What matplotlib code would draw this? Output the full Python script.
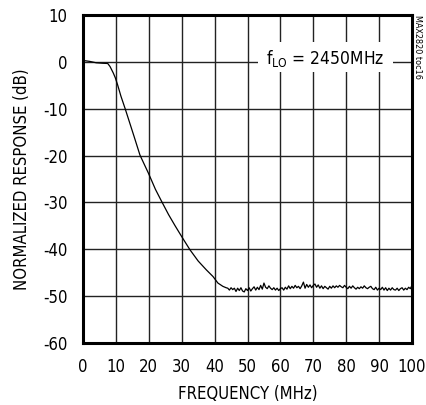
import numpy as np
import matplotlib
matplotlib.use('Agg')
import matplotlib.pyplot as plt
from matplotlib.patches import Rectangle

plt.rcParams['font.family'] = ['Liberation Sans Narrow', 'DejaVu Sans']
plt.rcParams['font.stretch'] = 'condensed'
plt.rcParams['axes.unicode_minus'] = False

# passband and roll-off of the baseband filter
freq_rolloff = [0, 2, 4, 6, 7.5, 8.2, 9.2, 9.8, 10.5, 11.5, 12.8, 14, 15.5, 17.3,
                19.9, 22, 23.9, 26, 28, 30, 32.5, 35, 37.5, 39.5, 41, 42.5, 43.5]
resp_rolloff = [0.3, 0.1, -0.2, -0.3, -0.35, -1.0, -2.4, -3.4, -4.9, -7.3, -10.0,
                -12.6, -15.9, -19.9, -23.8, -27.2, -29.8, -32.6, -35.0, -37.3,
                -40.1, -42.5, -44.4, -45.8, -47.2, -47.9, -48.2]

# stopband noise floor, 44 MHz to 100 MHz in 0.5 MHz steps
freq_floor = np.arange(44, 100.01, 0.5)
resp_floor = [-48.3, -48.7, -48.2, -48.6, -48.3, -49.0, -48.3, -48.8, -48.2, -48.9,
              -49.1, -48.4, -48.8, -48.2, -48.9, -48.4, -48.0, -48.7, -48.1, -48.6,
              -47.7, -48.5, -47.2, -48.1, -48.4, -47.8, -48.3, -48.6, -48.2, -48.7,
              -48.3, -48.8, -48.4, -48.2, -48.7, -48.1, -48.5, -47.8, -48.4, -47.9,
              -48.3, -47.7, -48.2, -47.9, -48.4, -47.8, -47.0, -48.3, -47.5, -48.1,
              -47.6, -48.2, -47.7, -47.4, -48.1, -47.6, -48.3, -47.8, -48.4, -47.9,
              -48.2, -48.5, -47.9, -48.3, -47.8, -48.2, -47.8, -48.1, -47.7, -48.0,
              -48.2, -47.7, -48.1, -48.4, -47.9, -48.3, -47.8, -48.2, -48.5, -48.1,
              -48.4, -48.0, -48.3, -47.8, -48.2, -48.4, -48.1, -47.9, -48.4, -48.6,
              -48.1, -48.7, -48.3, -48.6, -48.1, -48.7, -48.2, -48.8, -48.3, -48.7,
              -48.2, -48.6, -48.7, -48.3, -48.8, -48.4, -48.2, -48.7, -48.3, -48.6,
              -48.1, -48.4, -47.7]

freq = np.concatenate([freq_rolloff, freq_floor])
resp = np.concatenate([resp_rolloff, resp_floor])

xticks = [0, 10, 20, 30, 40, 50, 60, 70, 80, 90, 100]
yticks = [10, 0, -10, -20, -30, -40, -50, -60]

fig = plt.figure(figsize=(4.26, 4.05), dpi=100)
ax = fig.add_axes([0.195, 0.153, 0.772, 0.810])

ax.plot(freq, resp, color='black', linewidth=0.9, zorder=4)

ax.set_xlim(0, 100)
ax.set_ylim(-60, 10)
ax.set_xticks(xticks)
ax.set_yticks(yticks)
ax.tick_params(length=0, labelsize=12, pad=11)
ax.grid(True, color='#222222', linewidth=1.0)
for s in ax.spines.values():
    s.set_linewidth(2.2)

# white box behind the LO frequency label
ax.add_patch(Rectangle((53.3, -2.1), 40.9, 6.4, facecolor='white',
                       edgecolor='none', zorder=3))
ax.text(73.7, 0.8, r'f$_\mathregular{LO}$ = 2450MHz', fontsize=12.5,
        ha='center', va='center', zorder=5)

ax.set_xlabel('FREQUENCY (MHz)', fontsize=12, labelpad=6)
ax.set_ylabel('NORMALIZED RESPONSE (dB)', fontsize=12, labelpad=9)

fig.text(0.981, 0.963, 'MAX2820 toc16', rotation=270, fontsize=6.5,
         ha='center', va='top')

fig.savefig('out.png', dpi=100)
